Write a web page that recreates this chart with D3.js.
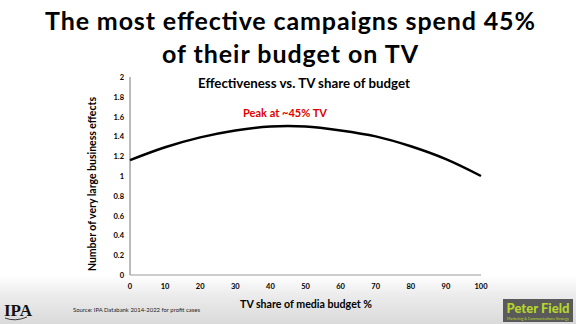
<!DOCTYPE html>
<html><head><meta charset="utf-8">
<script src="https://cdn.jsdelivr.net/npm/d3@7"></script>
<style>body{margin:0;background:#fff}svg{display:block}</style>
</head><body>
<svg id="c" width="576" height="324"></svg>
<script>
const tvShare = [0, 10, 20, 30, 40, 45, 50, 60, 70, 80, 90, 100];
const effects = [1.16, 1.29, 1.39, 1.46, 1.50, 1.505, 1.50, 1.46, 1.40, 1.30, 1.17, 1.00];
const xTicks = [0, 10, 20, 30, 40, 50, 60, 70, 80, 90, 100];
const yTicks = [0, 0.2, 0.4, 0.6, 0.8, 1, 1.2, 1.4, 1.6, 1.8, 2];

const svg = d3.select("#c");
const F = "Lato, 'Open Sans', sans-serif";
const defs = svg.append("defs");
const g = defs.append("linearGradient").attr("id","bg").attr("x1",0).attr("x2",0).attr("y1",0).attr("y2",1);
g.append("stop").attr("offset","0").attr("stop-color","#ffffff");
g.append("stop").attr("offset","0.85").attr("stop-color","#ffffff");
g.append("stop").attr("offset","0.91").attr("stop-color","#ececec");
g.append("stop").attr("offset","1").attr("stop-color","#dadada");
svg.append("rect").attr("width",576).attr("height",324).attr("fill","url(#bg)");

svg.append("text").attr("x",290).attr("y",30).attr("text-anchor","middle")
  .attr("font-family",F).attr("font-weight","bold").attr("font-size",25).attr("fill","#000")
  .attr("textLength",490).attr("lengthAdjust","spacing")
  .text("The most effective campaigns spend 45%");
svg.append("text").attr("x",290).attr("y",63).attr("text-anchor","middle")
  .attr("font-family",F).attr("font-weight","bold").attr("font-size",25).attr("fill","#000")
  .attr("textLength",256).attr("lengthAdjust","spacing")
  .text("of their budget on TV");

const x = d3.scaleLinear().domain([0,100]).range([130,481]);
const y = d3.scaleLinear().domain([0,2]).range([275,77]);

svg.append("line").attr("x1",130).attr("x2",130).attr("y1",y(2)).attr("y2",y(0)).attr("stroke","#777").attr("stroke-width",1);
svg.append("line").attr("x1",130).attr("x2",481).attr("y1",y(0)).attr("y2",y(0)).attr("stroke","#999").attr("stroke-width",1.2);

svg.append("g").selectAll("text").data(yTicks).join("text")
  .attr("x",124).attr("y",d=>y(d)+3).attr("text-anchor","end")
  .attr("font-family",F).attr("font-weight","bold").attr("font-size",7.5).attr("fill","#000")
  .text(d=>d3.format("~g")(d));
svg.append("g").selectAll("text").data(xTicks).join("text")
  .attr("x",d=>x(d)).attr("y",288.5).attr("text-anchor","middle")
  .attr("font-family",F).attr("font-weight","bold").attr("font-size",7.5).attr("fill","#000")
  .text(d=>d);

const line = d3.line().x((d,i)=>x(tvShare[i])).y(d=>y(d)).curve(d3.curveMonotoneX);
svg.append("path").attr("d",line(effects)).attr("fill","none").attr("stroke","#000").attr("stroke-width",2.5);

svg.append("text").attr("x",304).attr("y",88).attr("text-anchor","middle")
  .attr("font-family",F).attr("font-weight","bold").attr("font-size",13).attr("fill","#000")
  .attr("textLength",212).attr("lengthAdjust","spacingAndGlyphs")
  .text("Effectiveness vs. TV share of budget");
svg.append("text").attr("x",285).attr("y",117).attr("text-anchor","middle")
  .attr("font-family",F).attr("font-weight","bold").attr("font-size",11).attr("fill","#e00000")
  .attr("textLength",84).attr("lengthAdjust","spacingAndGlyphs")
  .text("Peak at ~45% TV");

svg.append("text").attr("transform","translate(96,184) rotate(-90)").attr("text-anchor","middle")
  .attr("font-family",F).attr("font-weight","bold").attr("font-size",10.5).attr("fill","#000")
  .attr("textLength",174).attr("lengthAdjust","spacingAndGlyphs")
  .text("Number of very large business effects");
svg.append("text").attr("x",306).attr("y",308).attr("text-anchor","middle")
  .attr("font-family",F).attr("font-weight","bold").attr("font-size",12).attr("fill","#000")
  .attr("textLength",132).attr("lengthAdjust","spacingAndGlyphs")
  .text("TV share of media budget %");
svg.append("text").attr("x",73).attr("y",312)
  .attr("font-family",F).attr("font-size",6).attr("fill","#222")
  .attr("textLength",127).attr("lengthAdjust","spacingAndGlyphs")
  .text("Source: IPA Databank 2014-2022 for profit cases");

// IPA logo
svg.append("text").attr("x",4).attr("y",316)
  .attr("font-family","'Liberation Serif', serif").attr("font-weight","bold").attr("font-size",16).attr("fill","#111")
  .attr("textLength",28).attr("lengthAdjust","spacingAndGlyphs").text("IPA");
svg.append("path").attr("d","M5 318 Q15 322 27 317").attr("fill","none").attr("stroke","#111").attr("stroke-width",0.8);

// Peter Field logo
svg.append("rect").attr("x",503).attr("y",299).attr("width",70).attr("height",23).attr("fill","#5a5a5a");
svg.append("text").attr("x",538).attr("y",313).attr("text-anchor","middle")
  .attr("font-family",F).attr("font-weight","900").attr("font-size",13.5).attr("fill","#b6d62d")
  .attr("textLength",63).attr("lengthAdjust","spacingAndGlyphs")
  .text("Peter Field");
svg.append("text").attr("x",538).attr("y",319.5).attr("text-anchor","middle")
  .attr("font-family",F).attr("font-size",3.2).attr("fill","#b6d62d")
  .attr("textLength",62).attr("lengthAdjust","spacingAndGlyphs")
  .text("Marketing & Communications Strategy");
</script>
</body></html>
